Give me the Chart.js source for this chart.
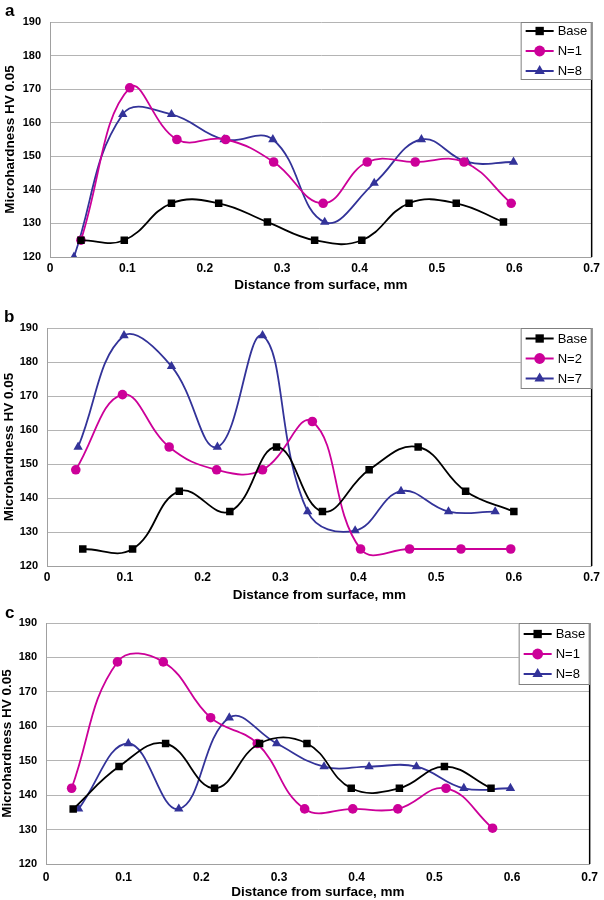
<!DOCTYPE html>
<html><head><meta charset="utf-8">
<script src="https://cdn.jsdelivr.net/npm/chart.js@4.4.1/dist/chart.umd.min.js"></script>
<style>
html,body{margin:0;padding:0;background:#fff;width:604px;height:900px;overflow:hidden;}
canvas{position:absolute;left:0;}
.lbl{position:absolute;font:bold 17px "Liberation Sans",Arial,sans-serif;line-height:17px;color:#000;}
</style></head><body>
<canvas id="ca" width="604" height="300" style="top:0px"></canvas>
<canvas id="cb" width="604" height="305" style="top:300px"></canvas>
<canvas id="cc" width="604" height="300" style="top:600px"></canvas>
<div class="lbl" style="left:5px;top:2px">a</div>
<div class="lbl" style="left:4px;top:308px">b</div>
<div class="lbl" style="left:5px;top:604px">c</div>
<script>
// ---------- data ----------
const xTickMin = 0, xTickMax = 0.7, xTickStep = 0.1;
const yTickMin = 120, yTickMax = 190, yTickStep = 10;
const xTitle = "Distance from surface, mm";
const yTitle = "Microhardness HV 0.05";

// Panel a
const aLabels = ["Base", "N=1", "N=8"];
const aBaseX = [0.040,0.096,0.157,0.218,0.281,0.342,0.403,0.464,0.525,0.586];
const aBaseY = [125,125,136,136,130.4,125,125,136,136,130.4];
const aN1X = [0.040,0.103,0.164,0.227,0.289,0.353,0.410,0.472,0.535,0.596];
const aN1Y = [125,170.4,155,155,148.3,136,148.3,148.3,148.3,136];
const aN8X = [0.031,0.094,0.157,0.225,0.288,0.355,0.419,0.480,0.539,0.599];
const aN8Y = [120,162.5,162.5,155,155,130.4,142,155,148.3,148.3];

// Panel b
const bLabels = ["Base", "N=2", "N=7"];
const bBaseX = [0.046,0.110,0.170,0.235,0.295,0.354,0.414,0.477,0.538,0.600];
const bBaseY = [125,125,142,136,155,136,148.3,155,142,136];
const bN2X = [0.037,0.097,0.157,0.218,0.277,0.341,0.403,0.466,0.532,0.596];
const bN2Y = [148.3,170.4,155,148.3,148.3,162.5,125,125,125,125];
const bN7X = [0.040,0.099,0.160,0.219,0.277,0.335,0.396,0.455,0.516,0.576];
const bN7Y = [155,187.8,178.7,155,187.8,136,130.4,142,136,136];

// Panel c
const cLabels = ["Base", "N=1", "N=8"];
const cBaseX = [0.035,0.094,0.154,0.217,0.275,0.336,0.393,0.455,0.513,0.573];
const cBaseY = [136,148.3,155,142,155,155,142,142,148.3,142];
const cN1X = [0.033,0.092,0.151,0.212,0.272,0.333,0.395,0.453,0.515,0.575];
const cN1Y = [142,178.7,178.7,162.5,155,136,136,136,142,130.4];
const cN8X = [0.042,0.106,0.171,0.236,0.297,0.358,0.416,0.477,0.538,0.598];
const cN8Y = [136,155,136,162.5,155,148.3,148.3,148.3,142,142];

// ---------- styles ----------
const FONT = '"Liberation Sans", Arial, sans-serif';
Chart.defaults.color = '#000';
Chart.defaults.font.family = FONT;
const seriesStyle = [
  {color:'#000000', pointStyle:'rect', radius:5.3},
  {color:'#cc0099', pointStyle:'circle', radius:4.8},
  {color:'#333399', pointStyle:'triangle', radius:5.4}
];

function pts(xs, ys){ return xs.map((x,i)=>({x:x, y:ys[i]})); }

function drawMarker(ctx, style, x, y, r, color){
  ctx.fillStyle = color;
  ctx.beginPath();
  if (style === 'rect') {
    const s = r/Math.SQRT2;
    ctx.rect(x-s, y-s, 2*s, 2*s);
  } else if (style === 'circle') {
    ctx.arc(x, y, r, 0, Math.PI*2);
  } else {
    ctx.moveTo(x, y - r);
    ctx.lineTo(x + r*Math.cos(Math.PI/6), y + r*0.5);
    ctx.lineTo(x - r*Math.cos(Math.PI/6), y + r*0.5);
    ctx.closePath();
  }
  ctx.fill();
}

const boxLegend = {
  id: 'boxLegend',
  afterDatasetsDraw(chart){
    const ctx = chart.ctx, ca = chart.chartArea;
    ctx.save();
    ctx.strokeStyle = '#000';
    ctx.lineWidth = 1.5;
    ctx.beginPath();
    ctx.moveTo(ca.right, ca.top);
    ctx.lineTo(ca.right, ca.bottom);
    ctx.stroke();
    const o = chart.options.plugins.boxLegend;
    const w = o.width, h = o.height;
    const x0 = ca.right - w, y0 = ca.top + o.offsetY;
    ctx.fillStyle = '#fff';
    ctx.fillRect(x0, y0, w, h);
    ctx.strokeStyle = '#808080';
    ctx.lineWidth = 1;
    ctx.strokeRect(x0+0.5, y0+0.5, w-1, h-1);
    chart.data.datasets.forEach((ds, i) => {
      const cy = y0 + h/2 + (i-1)*20;
      ctx.strokeStyle = ds.borderColor;
      ctx.lineWidth = 2;
      ctx.beginPath();
      ctx.moveTo(x0+5, cy); ctx.lineTo(x0+33, cy);
      ctx.stroke();
      drawMarker(ctx, ds.pointStyle, x0+19, cy, ds.pointRadius+0.6, ds.borderColor);
      ctx.fillStyle = '#000';
      ctx.font = '13px ' + FONT;
      ctx.textBaseline = 'middle';
      ctx.textAlign = 'left';
      ctx.fillText(ds.label, x0+37, cy+0.5);
    });
    ctx.restore();
  }
};

function makeChart(id, labels, series, g){
  const ds = series.map((s, i) => ({
    label: labels[i],
    data: pts(s[0], s[1]),
    showLine: true,
    borderColor: seriesStyle[i].color,
    backgroundColor: seriesStyle[i].color,
    borderWidth: 1.8,
    pointStyle: seriesStyle[i].pointStyle,
    pointRadius: seriesStyle[i].radius,
    pointBorderWidth: 0,
    pointHoverRadius: seriesStyle[i].radius,
    tension: 0.42,
    fill: false
  }));
  return new Chart(document.getElementById(id), {
    type: 'scatter',
    data: { datasets: ds },
    plugins: [boxLegend],
    options: {
      responsive: false,
      animation: false,
      events: [],
      layout: { padding: { left: 0, right: g.right, top: g.top, bottom: 0 } },
      plugins: {
        legend: { display: false },
        tooltip: { enabled: false },
        boxLegend: { width: 71, height: g.legH, offsetY: 0 }
      },
      scales: {
        x: {
          type: 'linear', min: xTickMin, max: xTickMax,
          ticks: { stepSize: xTickStep, padding: g.xTickPad, font: { size: 12, weight: 'bold' }, color: '#000' },
          grid: { display: true, color: 'rgba(0,0,0,0)', drawTicks: false },
          border: { display: true, color: '#a0a0a0', width: 1 },
          title: { display: true, text: xTitle, font: { size: 13.5, weight: 'bold', lineHeight: 1.15 }, color: '#000', padding: { top: 0, bottom: g.xTitlePad } },
          afterFit: s => { s.height = g.xH; }
        },
        y: {
          type: 'linear', min: yTickMin, max: yTickMax,
          ticks: { stepSize: yTickStep, padding: 9, font: { size: 11, weight: 'bold' }, color: '#000' },
          grid: { color: '#b4b4b4', lineWidth: 1, drawTicks: false },
          border: { display: true, color: '#a0a0a0', width: 1 },
          title: { display: true, text: yTitle, font: { size: 13.5, weight: 'bold', lineHeight: 1.15 }, color: '#000', padding: { top: g.yTitlePad, bottom: 0 } },
          afterFit: s => { s.width = g.left; }
        }
      }
    }
  });
}

makeChart('ca', aLabels, [[aBaseX,aBaseY],[aN1X,aN1Y],[aN8X,aN8Y]],
  { left: 50, right: 11, top: 22, xH: 43, xTickPad: 4, xTitlePad: 7, yTitlePad: 3, legH: 58 });
makeChart('cb', bLabels, [[bBaseX,bBaseY],[bN2X,bN2Y],[bN7X,bN7Y]],
  { left: 47, right: 10, top: 28, xH: 39, xTickPad: 4, xTitlePad: 2, yTitlePad: 2, legH: 61 });
makeChart('cc', cLabels, [[cBaseX,cBaseY],[cN1X,cN1Y],[cN8X,cN8Y]],
  { left: 46, right: 9, top: 23, xH: 36, xTickPad: 6, xTitlePad: 0, yTitlePad: 0, legH: 62 });
</script>
</body></html>
